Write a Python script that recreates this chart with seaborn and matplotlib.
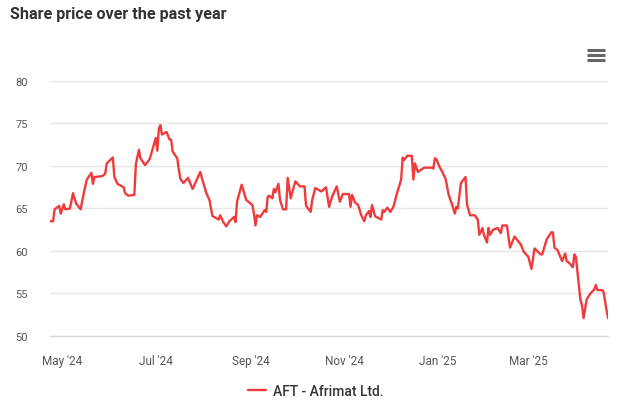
import pandas as pd
import matplotlib
matplotlib.use("Agg")
import matplotlib.pyplot as plt
import matplotlib.dates as mdates
from matplotlib.lines import Line2D
import seaborn as sns

# -----------------------------
# DATA
# -----------------------------
dates = [
    "2024-04-23", "2024-04-25", "2024-04-26", "2024-04-29", "2024-04-30",
    "2024-05-02", "2024-05-03", "2024-05-06", "2024-05-08", "2024-05-10",
    "2024-05-13", "2024-05-15", "2024-05-17", "2024-05-20", "2024-05-21",
    "2024-05-22", "2024-05-27", "2024-05-29", "2024-05-30", "2024-06-03",
    "2024-06-04", "2024-06-06", "2024-06-10", "2024-06-11", "2024-06-13",
    "2024-06-17", "2024-06-18", "2024-06-20", "2024-06-21", "2024-06-24",
    "2024-06-27", "2024-07-01", "2024-07-02", "2024-07-03", "2024-07-04",
    "2024-07-05", "2024-07-08", "2024-07-10", "2024-07-11", "2024-07-12",
    "2024-07-15", "2024-07-16", "2024-07-17", "2024-07-19", "2024-07-22",
    "2024-07-25", "2024-07-30", "2024-08-01", "2024-08-03", "2024-08-05",
    "2024-08-06", "2024-08-07", "2024-08-11", "2024-08-12", "2024-08-14",
    "2024-08-16", "2024-08-18", "2024-08-21", "2024-08-22", "2024-08-23",
    "2024-08-26", "2024-08-29", "2024-09-02", "2024-09-03", "2024-09-04",
    "2024-09-05", "2024-09-07", "2024-09-10", "2024-09-11", "2024-09-12",
    "2024-09-13", "2024-09-15", "2024-09-16", "2024-09-17", "2024-09-19",
    "2024-09-20", "2024-09-22", "2024-09-24", "2024-09-25", "2024-09-27",
    "2024-09-30", "2024-10-03", "2024-10-06", "2024-10-07", "2024-10-10",
    "2024-10-11", "2024-10-13", "2024-10-15", "2024-10-17", "2024-10-20",
    "2024-10-22", "2024-10-24", "2024-10-27", "2024-10-29", "2024-10-31",
    "2024-11-04", "2024-11-05", "2024-11-06", "2024-11-08", "2024-11-10",
    "2024-11-12", "2024-11-14", "2024-11-15", "2024-11-17", "2024-11-18",
    "2024-11-19", "2024-11-21", "2024-11-25", "2024-11-26", "2024-11-27",
    "2024-11-29", "2024-12-01", "2024-12-03", "2024-12-05", "2024-12-08",
    "2024-12-09", "2024-12-10", "2024-12-12", "2024-12-15", "2024-12-16",
    "2024-12-17", "2024-12-19", "2024-12-23", "2024-12-28", "2024-12-29",
    "2024-12-30", "2024-12-31", "2025-01-02", "2025-01-03", "2025-01-06",
    "2025-01-08", "2025-01-10", "2025-01-12", "2025-01-13", "2025-01-14",
    "2025-01-16", "2025-01-19", "2025-01-20", "2025-01-22", "2025-01-25",
    "2025-01-27", "2025-01-28", "2025-01-30", "2025-01-31", "2025-02-02",
    "2025-02-03", "2025-02-04", "2025-02-06", "2025-02-09", "2025-02-11",
    "2025-02-12", "2025-02-15", "2025-02-17", "2025-02-20", "2025-02-23",
    "2025-02-24", "2025-02-26", "2025-03-01", "2025-03-03", "2025-03-05",
    "2025-03-09", "2025-03-10", "2025-03-13", "2025-03-16", "2025-03-17",
    "2025-03-18", "2025-03-20", "2025-03-23", "2025-03-25", "2025-03-26",
    "2025-03-27", "2025-03-30", "2025-03-31", "2025-04-01", "2025-04-03",
    "2025-04-04", "2025-04-05", "2025-04-06", "2025-04-08", "2025-04-10",
    "2025-04-13", "2025-04-14", "2025-04-15", "2025-04-18", "2025-04-19",
    "2025-04-21", "2025-04-22",
]

prices = [
    63.5, 63.5, 64.9, 65.3, 64.4,
    65.5, 64.9, 65.0, 66.8, 65.6,
    64.9, 66.8, 68.4, 69.2, 67.9,
    68.7, 68.8, 69.1, 70.3, 71.0,
    68.7, 67.9, 67.5, 66.8, 66.5,
    66.6, 70.2, 71.9, 70.9, 70.1,
    70.8, 73.3, 71.8, 74.4, 74.8,
    73.7, 74.0, 73.1, 73.1, 71.7,
    70.9, 69.6, 68.5, 68.0, 68.6,
    67.3, 69.3, 68.0, 66.8, 66.0,
    65.0, 64.1, 63.7, 64.2, 63.4,
    62.9, 63.5, 64.0, 63.4, 65.8,
    67.8, 66.0, 65.4, 64.4, 63.0,
    64.2, 64.0, 64.8, 64.6, 66.4,
    66.5, 66.2, 67.3, 66.9, 67.9,
    66.0, 64.9, 64.9, 68.6, 66.2,
    68.2, 67.6, 67.6, 65.3, 64.6,
    66.0, 67.4, 67.2, 67.0, 67.5,
    65.2, 66.4, 67.6, 65.8, 66.7,
    66.7, 65.2, 66.6, 65.7, 65.4,
    64.2, 63.5, 64.2, 64.7, 64.0,
    65.4, 64.1, 63.7, 64.8, 64.6,
    65.1, 64.6, 65.2, 66.6, 68.4,
    71.0, 70.7, 71.2, 71.2, 68.4,
    70.3, 69.3, 69.8, 69.8, 69.7,
    70.9, 70.8, 69.9, 69.6, 68.5,
    66.6, 65.6, 64.4, 65.2, 65.0,
    68.0, 68.7, 65.4, 64.2, 64.2,
    63.7, 61.9, 62.7, 61.9, 61.0,
    62.7, 61.9, 62.5, 62.7, 62.1,
    63.0, 63.0, 60.4, 61.7, 61.0,
    60.8, 59.9, 59.3, 57.9, 60.3,
    59.6, 59.6, 61.4, 62.2, 62.2,
    60.4, 60.1, 58.8, 59.7, 58.8,
    58.7, 58.1, 59.6, 59.3, 55.8,
    54.2, 53.6, 52.1, 54.3, 54.9,
    55.5, 56.0, 55.4, 55.4, 55.2,
    53.0, 52.1,
]

series_name = "AFT - Afrimat Ltd."
y_ticks = [50, 55, 60, 65, 70, 75, 80]
x_ticks = ["2024-05-01", "2024-07-01", "2024-09-01", "2024-11-01", "2025-01-01", "2025-03-01"]

df = pd.DataFrame({"Date": pd.to_datetime(dates), "Price": prices, "Series": series_name})

# -----------------------------
# PLOT
# -----------------------------
sns.set_theme(style="white")
plt.rcParams['font.family'] = ['Roboto', 'DejaVu Sans']

line_color = "#ef3b3b"
grid_color = "#e6e6e6"
label_color = "#555555"

fig = plt.figure(figsize=(6.25, 4.14), dpi=100)
ax = fig.add_axes([0.08, 0.186, 0.893, 0.616])

sns.lineplot(data=df, x="Date", y="Price", color=line_color, linewidth=1.7, ax=ax, legend=False)

ax.set_ylim(50, 80)
ax.set_xlim(df["Date"].min(), df["Date"].max())
ax.set_yticks(y_ticks)
ax.set_xticks(pd.to_datetime(x_ticks))
ax.xaxis.set_major_formatter(mdates.DateFormatter("%b '%y"))

ax.grid(axis="y", color=grid_color, linewidth=1)
ax.grid(axis="x", visible=False)
ax.set_axisbelow(True)
for side in ["top", "right", "left"]:
    ax.spines[side].set_visible(False)
ax.spines["bottom"].set_color("#d8d8d8")
ax.spines["bottom"].set_linewidth(1)

ax.tick_params(axis="x", colors="#d8d8d8", length=8, width=1, labelcolor=label_color,
               labelsize=8.5, pad=5)
ax.tick_params(axis="y", length=0, labelcolor=label_color, labelsize=8, pad=16)
ax.set_xlabel("")
ax.set_ylabel("")

# title
fig.text(0.016, 0.966, "Share price over the past year", fontsize=11.6, fontweight="bold",
         color="#333333", ha="left", va="center")

# hamburger menu icon
for yy in [50.7, 55.7, 60.7]:
    fig.add_artist(Line2D([587 / 625, 605 / 625], [1 - yy / 414, 1 - yy / 414],
                          color="#666666", linewidth=2.2, solid_capstyle="butt"))

# legend
handle = Line2D([], [], color=line_color, linewidth=1.7)
fig.legend([handle], [series_name], loc="center", bbox_to_anchor=(0.505, 0.053),
           frameon=False, fontsize=10, handlelength=1.3, handletextpad=0.5,
           labelcolor="#333333", prop={"weight": "medium", "size": 10})

plt.savefig("out.png", dpi=100)
